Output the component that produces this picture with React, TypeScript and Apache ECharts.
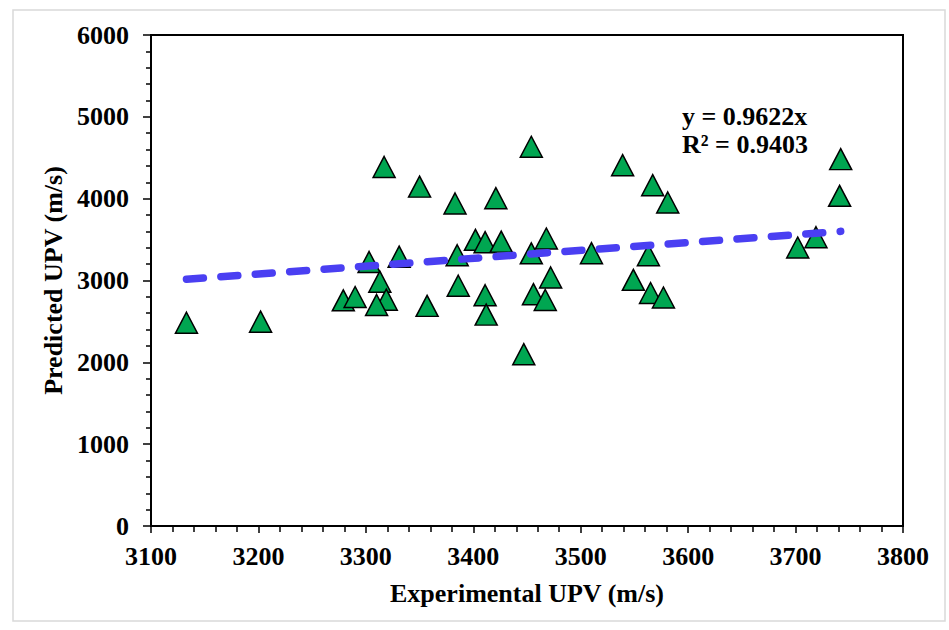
import React, { useEffect, useRef } from "react";
import * as echarts from "echarts";

const experimental = [
  3133, 3202, 3317, 3303, 3331, 3313, 3279, 3290, 3319, 3310,
  3350, 3383, 3421, 3454, 3539, 3357, 3385, 3386, 3402, 3411,
  3426, 3411, 3412, 3447, 3454, 3468, 3472, 3456, 3467, 3510,
  3567, 3581, 3563, 3549, 3565, 3577, 3742, 3741, 3702, 3719,
];
const predicted = [
  2484, 2497, 4387, 3226, 3291, 2986, 2758, 2798, 2766, 2701,
  4147, 3941, 4006, 4634, 4409, 2690, 3309, 2936, 3497, 3468,
  3475, 2820, 2583, 2100, 3332, 3513, 3037, 2833, 2762, 3334,
  4165, 3953, 3308, 3008, 2847, 2792, 4483, 4035, 3403, 3529,
];
const slope = 0.9622;
const r2 = 0.9403;
const xTicks = [3100, 3800, 100];
const yTicks = [0, 6000, 1000];

const FONT = "'Liberation Serif', 'Times New Roman', serif";

export default function App() {
  const ref = useRef<HTMLDivElement>(null);
  useEffect(() => {
    if (!ref.current) return;
    const chart = echarts.init(ref.current, null, { renderer: "svg" });
    const points = experimental.map((x, i) => [x, predicted[i]]);
    const xMin = Math.min(...experimental);
    const xMax = Math.max(...experimental);
    const trend = [
      [xMin, slope * xMin],
      [xMax, slope * xMax],
    ];
    const labelStyle = {
      color: "#000",
      fontFamily: FONT,
      fontWeight: "bold" as const,
      fontSize: 26,
    };
    const plain = (v: number) => String(v);
    chart.setOption({
      animation: false,
      backgroundColor: "#fff",
      grid: {
        left: 151,
        top: 35,
        right: 46,
        bottom: 104,
        show: true,
        borderColor: "#000",
        borderWidth: 2,
        backgroundColor: "transparent",
      },
      xAxis: {
        type: "value",
        min: xTicks[0],
        max: xTicks[1],
        interval: xTicks[2],
        name: "Experimental UPV (m/s)",
        nameLocation: "middle",
        nameGap: 54,
        nameTextStyle: { ...labelStyle, fontSize: 26 },
        axisLine: { show: true, onZero: false, lineStyle: { color: "#000", width: 2 } },
        axisTick: { show: true, length: 7, lineStyle: { color: "#000", width: 1.5 } },
        minorTick: { show: true, splitNumber: 5, length: 6, lineStyle: { color: "#000", width: 1.5 } },
        splitLine: { show: false },
        minorSplitLine: { show: false },
        axisLabel: { ...labelStyle, margin: 17, formatter: plain },
      },
      yAxis: {
        type: "value",
        min: yTicks[0],
        max: yTicks[1],
        interval: yTicks[2],
        name: "Predicted UPV (m/s)",
        nameLocation: "middle",
        nameGap: 76,
        nameRotate: 90,
        nameTextStyle: { ...labelStyle, fontSize: 26 },
        axisLine: { show: true, lineStyle: { color: "#000", width: 2 } },
        axisTick: { show: true, length: 8, lineStyle: { color: "#000", width: 1.5 } },
        minorTick: { show: true, splitNumber: 5, length: 5, lineStyle: { color: "#000", width: 1.5 } },
        splitLine: { show: false },
        minorSplitLine: { show: false },
        axisLabel: { ...labelStyle, margin: 22, formatter: plain },
      },
      series: [
        {
          type: "scatter",
          data: points,
          symbol: "triangle",
          symbolSize: [22, 21],
          itemStyle: { color: "#00A651", borderColor: "#000", borderWidth: 1.5, opacity: 1 },
          z: 2,
        },
        {
          type: "line",
          data: trend,
          showSymbol: false,
          symbol: "none",
          lineStyle: { color: "#4A3FF2", width: 7.5, type: [17, 17.5], cap: "round" },
          z: 3,
        },
      ],
      graphic: [
        {
          type: "rect",
          shape: { x: 13, y: 10, width: 932, height: 611 },
          style: { fill: "none", stroke: "#d9d9d9", lineWidth: 1.5 },
          silent: true,
          z: -1,
        },
        {
          type: "text",
          x: 682,
          y: 116,
          style: {
            text: `y = ${slope}x`,
            fill: "#000",
            font: `bold 26px ${FONT}`,
            textAlign: "left",
            textVerticalAlign: "middle",
          },
        },
        {
          type: "text",
          x: 682,
          y: 144,
          style: {
            text: `R² = ${r2}`,
            fill: "#000",
            font: `bold 26px ${FONT}`,
            textAlign: "left",
            textVerticalAlign: "middle",
          },
        },
      ],
    });
    return () => chart.dispose();
  }, []);
  return (
    <div
      ref={ref}
      style={{ position: "absolute", left: 0, top: 0, width: 949, height: 630 }}
    />
  );
}
